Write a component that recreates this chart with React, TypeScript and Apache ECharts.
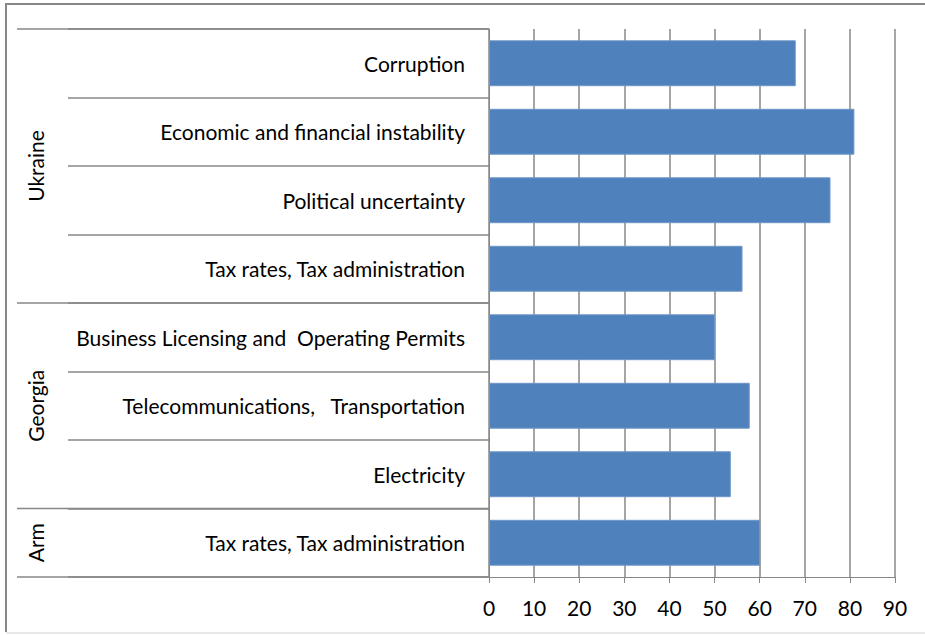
import React, { useEffect, useRef } from "react";
import * as echarts from "echarts";

const categories = [
  "Corruption",
  "Economic and financial instability",
  "Political uncertainty",
  "Tax rates, Tax administration",
  "Business Licensing and  Operating Permits",
  "Telecommunications,   Transportation",
  "Electricity",
  "Tax rates, Tax administration",
];
const values = [68, 81, 75.7, 56.2, 50.1, 57.8, 53.6, 60.1];
const groupNames = ["Ukraine", "Georgia", "Arm"];
const groupSizes = [4, 3, 1];
const xTicks = { min: 0, max: 90, interval: 10 };

const GREY = "#878787";
const FONT = "Lato";

export default function App() {
  const ref = useRef<HTMLDivElement>(null);
  useEffect(() => {
    document.body.style.margin = "0";
    if (!ref.current) return;
    const chart = echarts.init(ref.current, null, { renderer: "svg" });
    const gridLeft = 489;
    chart.setOption({
      animation: false,
      backgroundColor: "#fff",
      grid: { left: gridLeft, right: 30, top: 29, bottom: 58, outerBoundsMode: "none", containLabel: false },
      xAxis: {
        type: "value",
        min: xTicks.min,
        max: xTicks.max,
        interval: xTicks.interval,
        axisLine: { show: true, lineStyle: { color: GREY, width: 1 } },
        axisTick: { show: true, length: 6, lineStyle: { color: GREY } },
        axisLabel: { color: "#000", fontFamily: FONT, fontSize: 21, margin: 20 },
        splitLine: { show: true, lineStyle: { color: GREY, width: 1.5 } },
      },
      yAxis: {
        type: "category",
        inverse: true,
        data: categories,
        axisLine: { show: true, lineStyle: { color: GREY, width: 1 } },
        axisTick: { show: true, length: gridLeft - 68, interval: 0, lineStyle: { color: GREY, width: 1.5 } },
        axisLabel: { color: "#000", fontFamily: FONT, fontSize: 21, margin: 24, interval: 0 },
        splitLine: { show: false },
      },
      series: [
        {
          type: "bar",
          data: values,
          barCategoryGap: "33%",
          itemStyle: { color: "#4F81BD", borderColor: "#6f97c9", borderWidth: 1 },
        },
      ],
    });

    // group separators and labels, positioned via the axis scale
    const c0 = chart.convertToPixel({ yAxisIndex: 0 }, 0) as number;
    const c1 = chart.convertToPixel({ yAxisIndex: 0 }, 1) as number;
    const band = c1 - c0;
    const top = c0 - band / 2;
    const graphics: any[] = [];
    let idx = 0;
    const boundaries: number[] = [top];
    groupNames.forEach((name, g) => {
      const start = top + idx * band;
      idx += groupSizes[g];
      const end = top + idx * band;
      boundaries.push(end);
      graphics.push({
        type: "text",
        x: 35,
        y: (start + end) / 2,
        rotation: Math.PI / 2,
        style: {
          text: name,
          fill: "#000",
          font: `21px ${FONT}`,
          align: "center",
          verticalAlign: "middle",
        },
      });
    });
    boundaries.forEach((y) => {
      graphics.push({
        type: "line",
        shape: { x1: 17, y1: y, x2: gridLeft, y2: y },
        style: { stroke: GREY, lineWidth: 1.5 },
      });
    });
    // chart frame
    graphics.push({
      type: "polyline",
      shape: { points: [[925, 4], [6, 4], [6, 632]] },
      style: { stroke: GREY, lineWidth: 2, fill: null },
    });
    graphics.push({
      type: "line",
      shape: { x1: 6, y1: 633, x2: 925, y2: 633 },
      style: { stroke: "#e0e0e0", lineWidth: 1.5 },
    });
    chart.setOption({ graphic: graphics });

    return () => chart.dispose();
  }, []);
  return <div ref={ref} style={{ width: 925, height: 635 }} />;
}
